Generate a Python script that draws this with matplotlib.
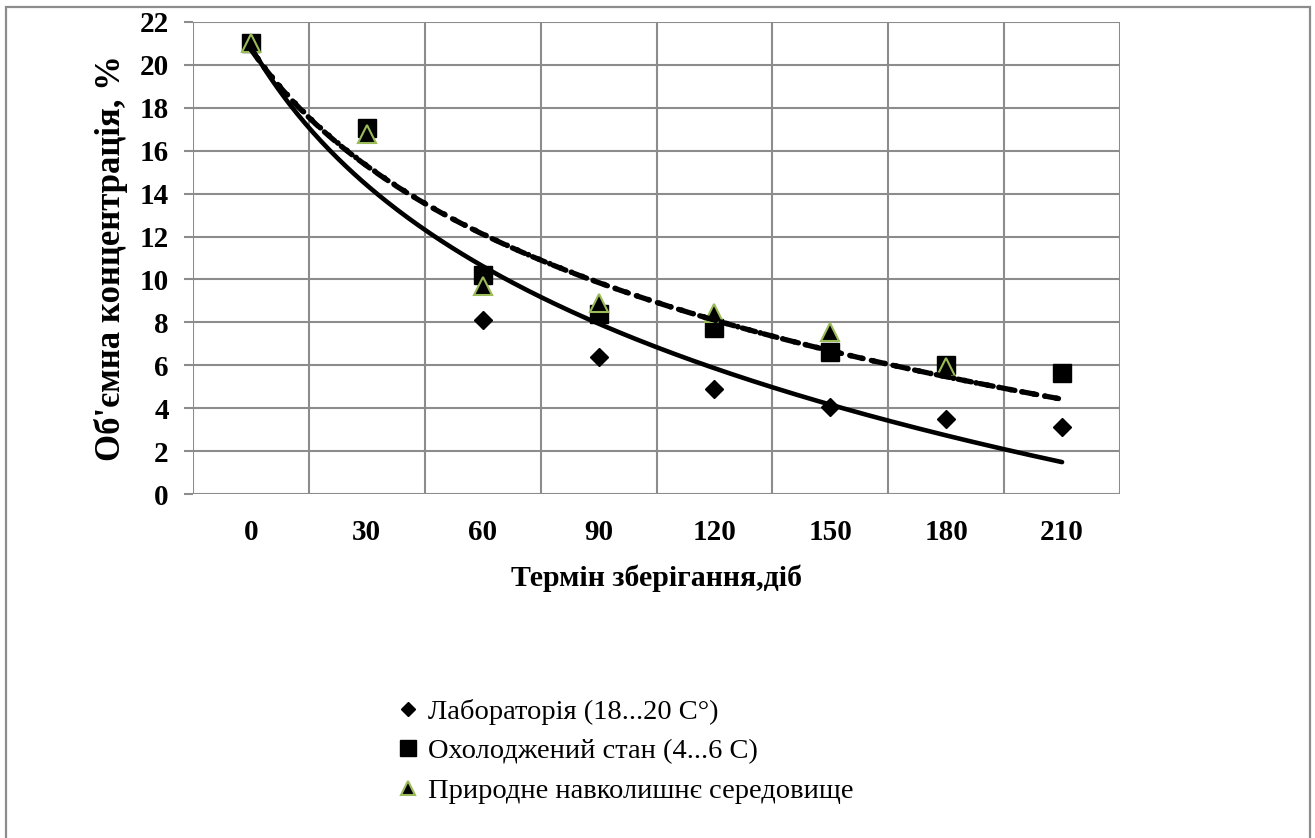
import numpy as np
import matplotlib
matplotlib.use("Agg")
import matplotlib.pyplot as plt
from matplotlib.patches import Rectangle

# ---- data ----
days = ['0', '30', '60', '90', '120', '150', '180', '210']
lab = [21.0, 17.0, 8.1, 6.4, 4.9, 4.05, 3.5, 3.1]
cooled = [21.0, 17.05, 10.2, 8.4, 7.75, 6.6, 6.0, 5.65]
natural = [21.0, 16.8, 9.7, 8.9, 8.45, 7.55, 5.9]
series_labels = ['Лабораторія (18...20 C°)',
                 'Охолоджений стан (4...6 C)',
                 'Природне навколишнє середовище']
x_label = 'Термін зберігання,діб'
y_label = "Об'ємна концентрація, %"
y_ticks = list(range(0, 23, 2))

plt.rcParams['font.family'] = ['Liberation Serif', 'DejaVu Serif']

W, H = 1315, 838
fig = plt.figure(figsize=(W / 100, H / 100), dpi=100)
fig.patch.set_facecolor('white')

# outer frame
fig.patches.append(Rectangle((6 / W, -0.01), (1310 - 6) / W, 1 - 7 / H + 0.01,
                             transform=fig.transFigure, fill=False,
                             edgecolor='#8c8c8c', linewidth=1.6))

L, R, T, B = 193, 1120, 22, 494
ax = fig.add_axes([L / W, 1 - B / H, (R - L) / W, (B - T) / H])

grid_c = '#8c8c8c'
n = len(days)
pos = np.arange(n)

# gridlines
for yv in y_ticks:
    ax.axhline(yv, color=grid_c, lw=1.5, zorder=1)
for b in np.arange(n + 1) - 0.5:
    ax.axvline(b, color=grid_c, lw=1.5, zorder=1)

# data markers
l1, = ax.plot(pos, lab, linestyle='none', marker='D', markersize=9,
              color='black', zorder=3, label=series_labels[0])
l2, = ax.plot(pos, cooled, linestyle='none', marker='s', markersize=13,
              color='black', zorder=3, label=series_labels[1])
l3, = ax.plot(pos[:len(natural)], natural, linestyle='none', marker='^',
              markersize=13, markerfacecolor='black', markeredgecolor='#9bbb59',
              markeredgewidth=1.5, zorder=3, label=series_labels[2])

# logarithmic trendlines (Excel style, x = category index 1..n)
xs = np.linspace(1, n, 300)


def logfit(vals):
    idx = np.arange(1, len(vals) + 1)
    b, a = np.polyfit(np.log(idx), vals, 1)
    return a + b * np.log(xs)


ax.plot(xs - 1, logfit(lab), color='black', lw=3.3, solid_capstyle='round', zorder=4)
ax.plot(xs - 1, logfit(cooled), color='black', lw=3.8, linestyle=(0, (2.6, 1.6)),
        dash_capstyle='round', zorder=4)
ax.plot(xs - 1, logfit(natural), color='black', lw=4.0, linestyle=(0, (0.1, 2.0)),
        dash_capstyle='round', zorder=4)

ax.set_xlim(-0.5, n - 0.5)
ax.set_ylim(0, 22)
ax.set_yticks(y_ticks)
ax.set_xticks(pos)
ax.set_xticklabels(days)
for s in ax.spines.values():
    s.set_visible(False)
ax.tick_params(axis='y', direction='out', length=6.5, width=1.5, color=grid_c,
               labelsize=21, pad=11)
ax.tick_params(axis='x', length=0, labelsize=21, pad=18)
for t in ax.get_xticklabels() + ax.get_yticklabels():
    t.set_fontweight('bold')

ax.set_xlabel(x_label, fontsize=21.5, fontweight='bold', labelpad=13)
ax.set_ylabel(y_label, fontsize=25, fontweight='bold', labelpad=8)

# legend
leg = fig.legend(handles=[l1, l2, l3], loc='upper left',
                 bbox_to_anchor=(395 / W, 1 - 699 / H), frameon=False,
                 fontsize=20.5, handlelength=0.9, handletextpad=0.25,
                 labelspacing=0.47, borderpad=0, borderaxespad=0)
leg.legend_handles[0].set_markersize(7)
leg.legend_handles[1].set_markersize(12)
leg.legend_handles[2].set_markersize(10)

fig.savefig('out.png', dpi=100, facecolor='white')
